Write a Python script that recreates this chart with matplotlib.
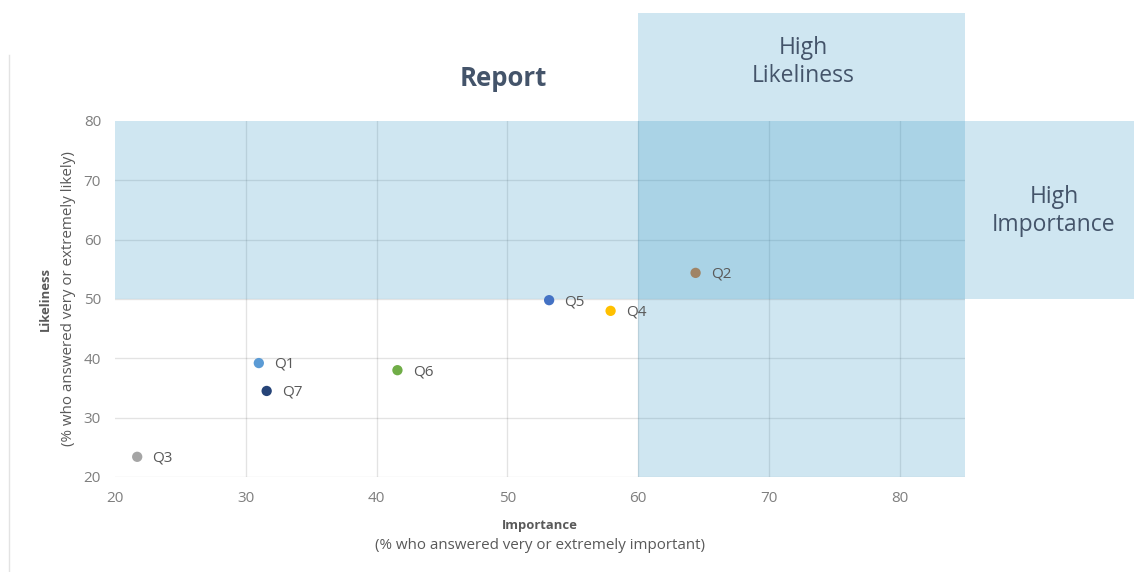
import matplotlib
matplotlib.use("Agg")
import matplotlib.pyplot as plt
from matplotlib.patches import Rectangle
from matplotlib.lines import Line2D

plt.rcParams['font.family'] = ['Open Sans', 'DejaVu Sans']

# survey items: importance vs likeliness (%)
labels = ['Q1', 'Q7', 'Q3', 'Q6', 'Q5', 'Q4', 'Q2']
importance = [31.0, 31.6, 21.7, 41.6, 53.2, 57.9, 64.4]
likeliness = [39.2, 34.5, 23.4, 38.0, 49.8, 48.0, 54.4]
colors = ['#5B9BD5', '#264478', '#A5A5A5', '#70AD47', '#4472C4', '#FFC000', '#A08466']

xticks = [20, 30, 40, 50, 60, 70, 80]
yticks = [20, 30, 40, 50, 60, 70, 80]

band_col = '#3797C5'
band_alpha = 0.24
txt_col = '#44546A'
tick_col = '#7F7F7F'

fig = plt.figure(figsize=(11.35, 5.72), dpi=100)
ax = fig.add_axes([0.1013, 0.1661, 0.7489, 0.6224])
ax.set_xlim(20, 85)
ax.set_ylim(20, 80)

# light grid, darker where the bands sit on top
for x in xticks[1:]:
    ax.plot([x, x], [20, 80], color='#000000', alpha=0.11, lw=1, zorder=1)
for y in yticks[:-1]:
    ax.plot([20, 85], [y, y], color='#000000', alpha=0.11, lw=1, zorder=1)

# high likeliness column and high importance row
ax.add_patch(Rectangle((60, 20), 25, 78.2, facecolor=band_col, alpha=band_alpha,
                       edgecolor='none', clip_on=False, zorder=2))
ax.add_patch(Rectangle((20, 50), 77.9, 30, facecolor=band_col, alpha=band_alpha,
                       edgecolor='none', clip_on=False, zorder=2))

ax.scatter(importance, likeliness, s=55, c=colors, zorder=3, linewidths=0)
for lab, x, y in zip(labels, importance, likeliness):
    ax.annotate(lab, (x, y), xytext=(11, -1), textcoords='offset points',
                va='center', ha='left', fontsize=11, color='#595959', zorder=4)

for s in ax.spines.values():
    s.set_visible(False)
ax.set_xticks(xticks)
ax.set_yticks(yticks)
ax.tick_params(length=0, colors=tick_col, labelsize=11, pad=10)

ax.text(0.5, -0.135, 'Importance', transform=ax.transAxes, ha='center', va='center',
        fontsize=9.4, fontweight='bold', color='#595959')
ax.text(0.5, -0.192, '(% who answered very or extremely important)', transform=ax.transAxes,
        ha='center', va='center', fontsize=10.9, color='#595959')
ax.text(-0.082, 0.5, 'Likeliness', transform=ax.transAxes, ha='center', va='center',
        rotation=90, fontsize=9.4, fontweight='bold', color='#595959')
ax.text(-0.055, 0.5, '(% who answered very or extremely likely)', transform=ax.transAxes,
        ha='center', va='center', rotation=90, fontsize=10.9, color='#595959')

fig.text(503 / 1135, 1 - 79 / 572, 'Report', ha='center', va='center',
         fontsize=18.5, fontweight='bold', color=txt_col)
fig.text(803 / 1135, 1 - 62 / 572, 'High\nLikeliness', ha='center', va='center',
         fontsize=16.5, color=txt_col, linespacing=1.25)
fig.text(1054 / 1135, 1 - 211 / 572, 'High\nImportance', ha='center', va='center',
         fontsize=16.5, color=txt_col, linespacing=1.25)

# faint border on the left
fig.add_artist(Line2D([9 / 1135, 9 / 1135], [0, 1 - 55 / 572], color='#E3E3E3', lw=1))

fig.savefig('out.png', dpi=100)
